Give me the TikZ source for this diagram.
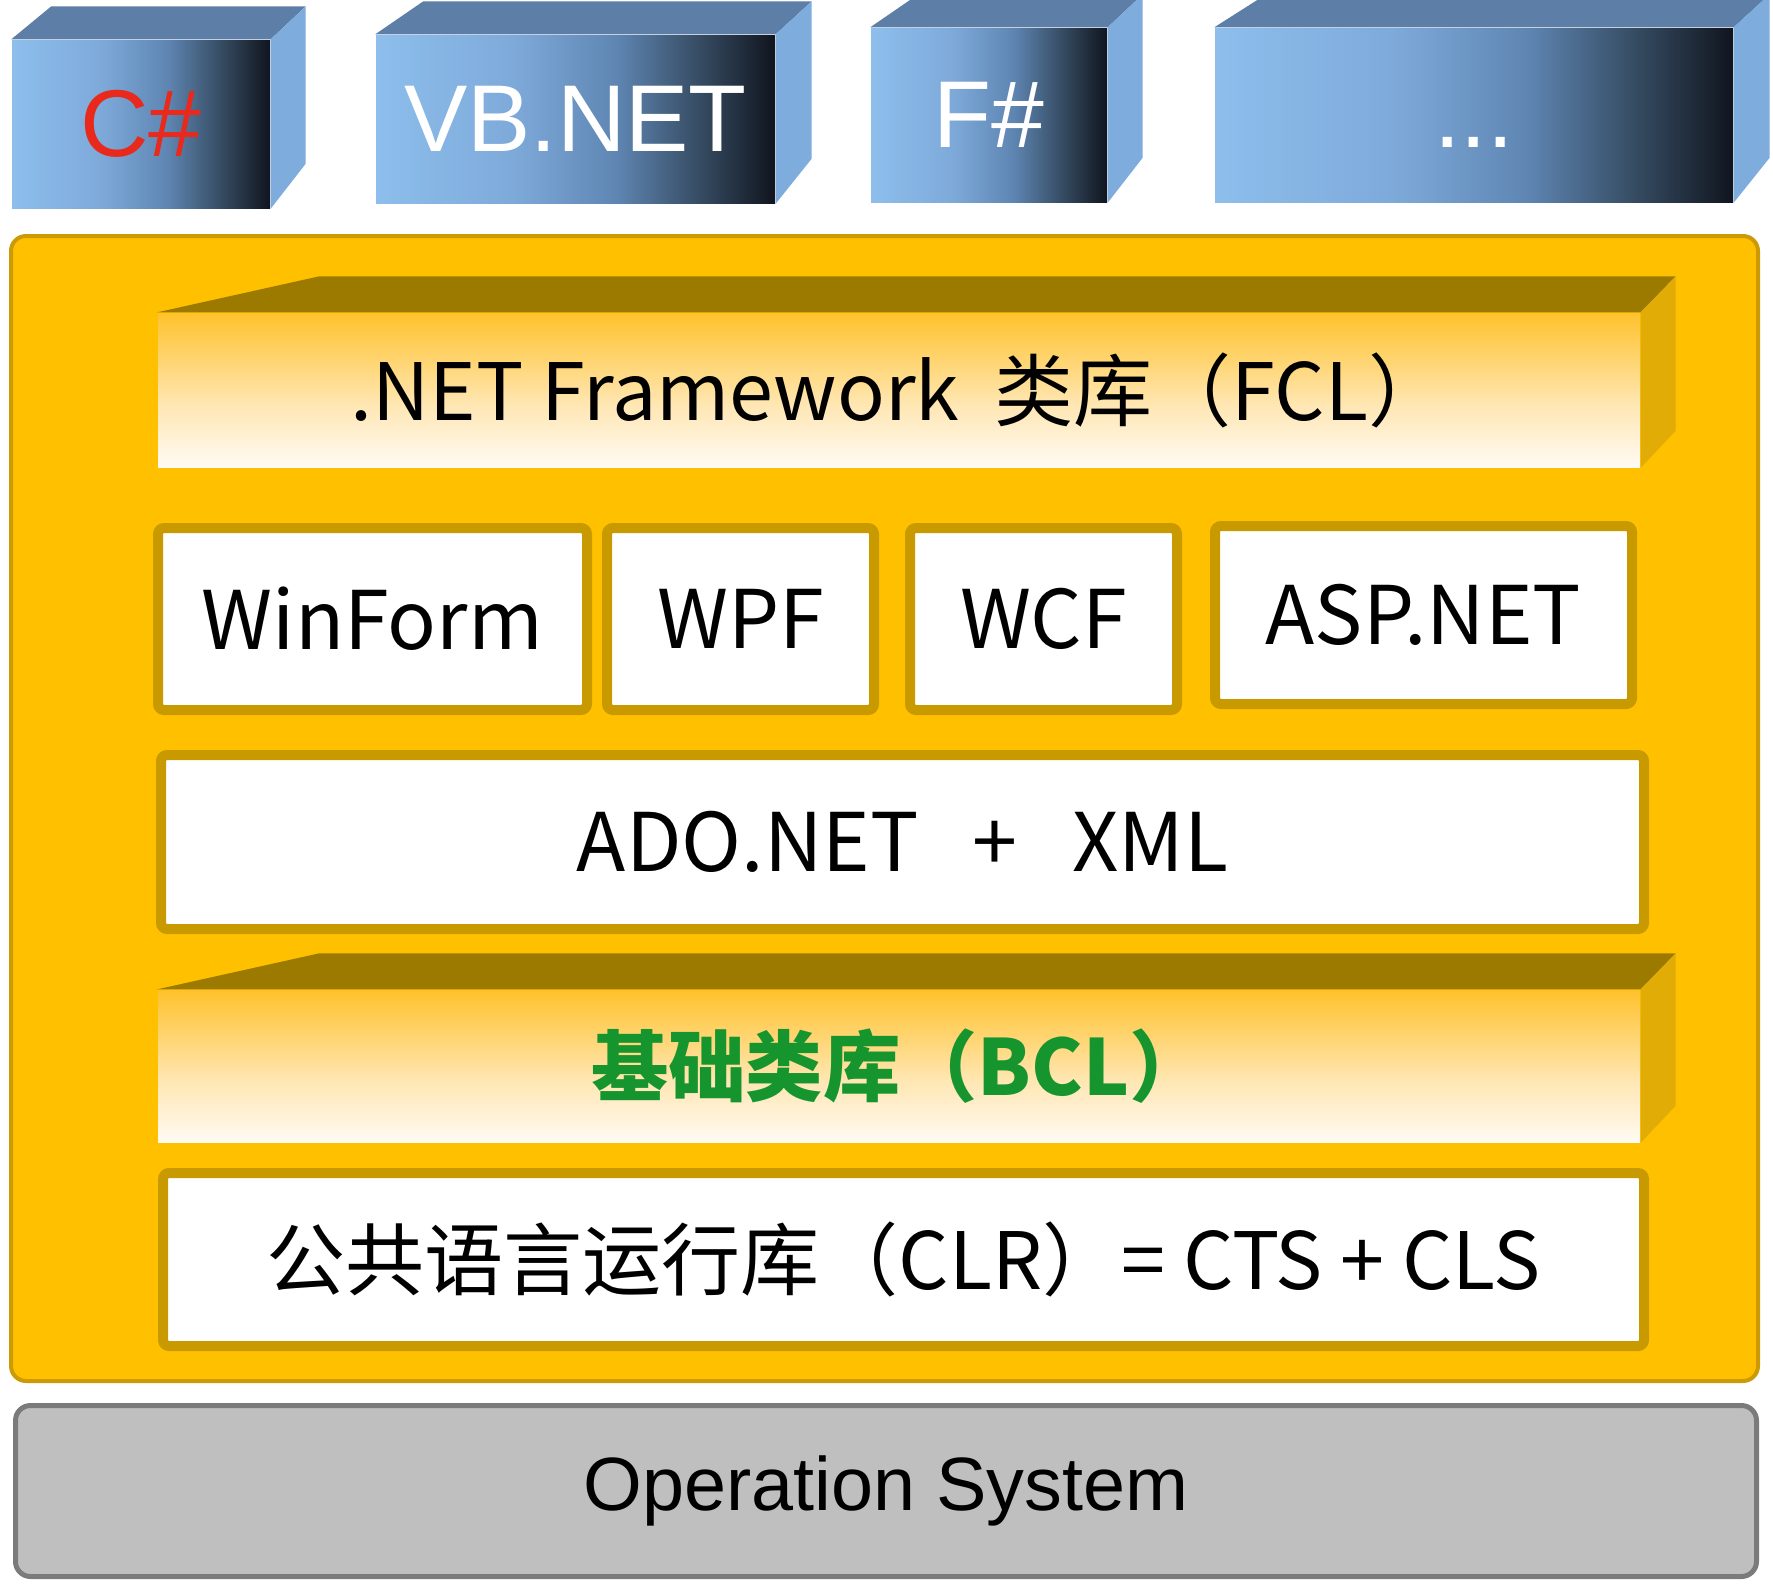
\documentclass[tikz,border=0pt]{standalone}
\usepackage{fontspec}
\setmainfont{Liberation Sans}
\newfontfamily\cjk{Noto Sans CJK SC}
\usetikzlibrary{positioning}

\definecolor{skyL}{HTML}{8DBEEC}
\definecolor{skyL2}{HTML}{7EAADA}
\definecolor{skyM}{HTML}{5F86B3}
\definecolor{skyD}{HTML}{34495F}
\definecolor{skyK}{HTML}{10151E}
\definecolor{skyTop}{HTML}{5C7EA7}
\definecolor{skySide}{HTML}{7EACDC}
\definecolor{csred}{HTML}{E8291C}
\definecolor{panelGold}{HTML}{FFC000}
\definecolor{panelRim}{HTML}{CB9A05}
\definecolor{boxRim}{HTML}{C99A00}
\definecolor{slabTop}{HTML}{9C7A00}
\definecolor{slabSide}{HTML}{E2AC06}
\definecolor{slabGold}{HTML}{FFC22C}
\definecolor{slabPale}{HTML}{FFE7B4}
\definecolor{slabCream}{HTML}{FFFAF3}
\definecolor{bclGreen}{HTML}{16952F}
\definecolor{osGray}{HTML}{BFBFBF}
\definecolor{osRim}{HTML}{7B7B7B}

\pgfdeclarehorizontalshading{langfront}{100bp}{color(0bp)=(skyL); color(25bp)=(skyL); color(42bp)=(skyL2); color(55bp)=(skyM); color(66bp)=(skyD); color(75bp)=(skyK); color(100bp)=(skyK)}
\pgfdeclareverticalshading{slabfront}{100bp}{color(0bp)=(slabCream); color(25bp)=(slabCream); color(45bp)=(slabPale); color(75bp)=(slabGold); color(100bp)=(slabGold)}

\begin{document}
\begin{tikzpicture}[x=0.1mm, y=-0.1mm,
        langbox/.style={shade, shading=langfront, inner sep=0pt, text=white,
            font=\fontsize{27}{30}\selectfont},
        slab/.style={shade, shading=slabfront, inner sep=0pt, minimum width=148.2mm,
            font=\cjk\fontsize{22.5}{26}\selectfont},
        layerbox/.style={draw=boxRim, line width=1mm, fill=white, rounded corners=0.6mm,
            inner sep=0pt, font=\cjk\fontsize{23}{26}\selectfont}]
                \path[use as bounding box, fill=white] (0,0) rectangle (1773,1589);

                \node[langbox, minimum width=25.8mm, minimum height=16.8mm] (csharp) at (141,124) {\textcolor{csred}{C\#}};
                \node[langbox, minimum width=39.9mm, minimum height=16.8mm] (vbnet) at (575.5,119) {VB.NET};
                \node[langbox, minimum width=23.6mm, minimum height=17.4mm] (fsharp) at (989,115) {F\#};
                \node[langbox, minimum width=51.8mm, minimum height=17.4mm] (more) at (1474,115) {\vphantom{F}...};

                \fill[skyTop] (csharp.north west) -- ++(40,-33) -- ([shift={(35,-33)}]csharp.north east) -- (csharp.north east) -- cycle;
                \fill[skySide] (csharp.north east) -- ++(35,-33) -- ([shift={(35,-45)}]csharp.south east) -- (csharp.south east) -- cycle;
                \fill[skyTop] (vbnet.north west) -- ++(48,-33) -- ([shift={(36,-33)}]vbnet.north east) -- (vbnet.north east) -- cycle;
                \fill[skySide] (vbnet.north east) -- ++(36,-33) -- ([shift={(36,-45)}]vbnet.south east) -- (vbnet.south east) -- cycle;
                \fill[skyTop] (fsharp.north west) -- ++(48,-33) -- ([shift={(35,-33)}]fsharp.north east) -- (fsharp.north east) -- cycle;
                \fill[skySide] (fsharp.north east) -- ++(35,-33) -- ([shift={(35,-45)}]fsharp.south east) -- (fsharp.south east) -- cycle;
                \fill[skyTop] (more.north west) -- ++(52,-33) -- ([shift={(36,-33)}]more.north east) -- (more.north east) -- cycle;
                \fill[skySide] (more.north east) -- ++(36,-33) -- ([shift={(36,-45)}]more.south east) -- (more.south east) -- cycle;

                \node[draw=panelRim, line width=0.4mm, fill=panelGold, rounded corners=1.5mm,
                    minimum width=174.7mm, minimum height=114.5mm] (framework) at (884.5,808.5) {};

                \node[slab, minimum height=15.4mm] (fcl) at (899,390) {.NET Framework\ \ 类库（FCL）};
                \fill[slabTop] (fcl.north west) -- ++(162,-36) -- ([shift={(35,-36)}]fcl.north east) -- (fcl.north east) -- cycle;
                \fill[slabSide] (fcl.north east) -- ++(35,-36) -- ([shift={(35,-37)}]fcl.south east) -- (fcl.south east) -- cycle;

                \node[layerbox, minimum width=42.9mm, minimum height=18.2mm] (winform) at (372.5,619) {WinForm};
                \node[layerbox, minimum width=26.7mm, minimum height=18.2mm] (wpf) at (740.5,619) {WPF};
                \node[layerbox, minimum width=26.7mm, minimum height=18.2mm] (wcf) at (1043.5,619) {WCF};
                \node[layerbox, minimum width=41.7mm, minimum height=17.8mm] (aspnet) at (1423.5,615) {ASP.NET};

                \node[layerbox, minimum width=148.3mm, minimum height=17.4mm] (adonet) at (902.5,842) {ADO.NET\ \ \ +\ \ \ XML};

                \node[slab, minimum height=15.2mm, text=bclGreen,
                    font=\cjk\bfseries\fontsize{22}{26}\selectfont] (bcl) at (899,1066) {基础类库（BCL）};
                \fill[slabTop] (bcl.north west) -- ++(162,-36) -- ([shift={(35,-36)}]bcl.north east) -- (bcl.north east) -- cycle;
                \fill[slabSide] (bcl.north east) -- ++(35,-36) -- ([shift={(35,-37)}]bcl.south east) -- (bcl.south east) -- cycle;

                \node[layerbox, minimum width=148.1mm, minimum height=17.3mm,
                    font=\cjk\fontsize{22.5}{26}\selectfont] (clr) at (903.5,1259.5) {公共语言运行库（CLR）=\ CTS\ +\ CLS};

                \node[draw=osRim, line width=0.5mm, fill=osGray, rounded corners=1.5mm,
                    minimum width=174.1mm, minimum height=17.1mm,
                    font=\fontsize{21.5}{24}\selectfont] (os) at (886,1491) {Operation System};
            \end{tikzpicture}
\end{document}
